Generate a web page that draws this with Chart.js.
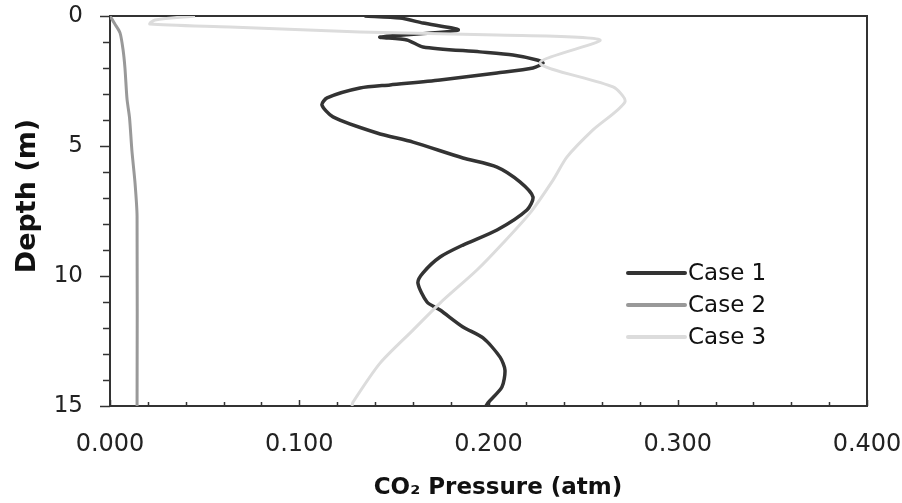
<!DOCTYPE html>
<html>
<head>
<meta charset="utf-8">
<script src="https://cdn.jsdelivr.net/npm/chart.js@4.4.1/dist/chart.umd.min.js"></script>
<style>
    html, body { margin: 0; padding: 0; background: #fff; }
    #wrapper { width: 902px; height: 503px; }
</style>
</head>
<body>
<div id="wrapper"><canvas id="canvas" width="902" height="503"></canvas></div>
<script>
// depth (m) and CO2 pressure (atm) per case
const CASE1_DEPTH = [0, 0.08, 0.27, 0.54, 0.81, 0.92, 1.19, 1.38, 1.50, 1.69, 1.81, 2.00, 2.19, 2.46, 2.65, 2.77, 3.15, 3.42, 3.88, 4.50, 4.85, 5.46, 5.81, 6.38, 6.96, 7.46, 8.23, 8.81, 9.27, 9.88, 10.27, 11.00, 11.31, 11.96, 12.38, 13.12, 13.62, 14.27, 14.88, 15];
const CASE1_PRESSURE = [0.1345, 0.1532, 0.1654, 0.1839, 0.1427, 0.1569, 0.1654, 0.1955, 0.2129, 0.2256, 0.2288, 0.2235, 0.2045, 0.1744, 0.1480, 0.1321, 0.1147, 0.1120, 0.1178, 0.1411, 0.1601, 0.1865, 0.2045, 0.2166, 0.2235, 0.2203, 0.2045, 0.1865, 0.1744, 0.1654, 0.1627, 0.1675, 0.1744, 0.1865, 0.1971, 0.2061, 0.2087, 0.2071, 0.1997, 0.1987];

const CASE2_DEPTH = [0, 0.3, 0.65, 1.3, 2.0, 3.2, 3.9, 5.2, 6.4, 7.7, 15];
const CASE2_PRESSURE = [0, 0.0025, 0.0053, 0.0069, 0.0079, 0.0090, 0.0103, 0.0116, 0.0132, 0.0143, 0.0143];

const CASE3_DEPTH = [0, 0.15, 0.31, 0.42, 0.62, 0.73, 0.92, 1.81, 2.73, 3.30, 4.38, 5.42, 6.31, 7.58, 8.73, 9.77, 11.04, 12.08, 13.35, 14.85, 15];
const CASE3_PRESSURE = [0.0449, 0.0238, 0.0211, 0.0634, 0.1321, 0.2045, 0.2589, 0.2272, 0.2658, 0.2721, 0.2552, 0.2415, 0.2341, 0.2219, 0.2077, 0.1939, 0.1744, 0.1601, 0.1427, 0.1284, 0.1279];

const X_LABELS = [0, 0.1, 0.2, 0.3, 0.4];
const Y_LABELS = [0, 5, 10, 15];

const FONT = 'DejaVu Sans';

function toPoints(depth, pressure) {
    return depth.map(function (d, i) {
        return { x: pressure[i], y: d };
    });
}

// box, inside ticks on x, outside ticks on y
const frameTicks = {
    id: 'frameTicks',
    beforeDatasetsDraw: function (chart) {
        const ctx = chart.ctx;
        const a = chart.chartArea;
        const xs = chart.scales.x;
        const ys = chart.scales.y;
        ctx.save();
        ctx.strokeStyle = '#333';
        ctx.lineWidth = 2;
        ctx.strokeRect(a.left, a.top, a.right - a.left, a.bottom - a.top);

        ctx.lineWidth = 1.5;
        for (let i = 0; i <= 20; i++) {
            const px = Math.round(xs.getPixelForValue(i * 0.02)) + 0.5;
            const len = (i % 5 === 0) ? 6 : 4;
            ctx.beginPath();
            ctx.moveTo(px, a.bottom);
            ctx.lineTo(px, a.bottom - len);
            ctx.stroke();
        }
        for (let d = 0; d <= 15; d++) {
            const py = Math.round(ys.getPixelForValue(d)) + 0.5;
            const len = (d % 5 === 0) ? 10 : 7;
            ctx.beginPath();
            ctx.moveTo(a.left - len, py);
            ctx.lineTo(a.left, py);
            ctx.stroke();
        }
        ctx.restore();
    },
    afterDraw: function (chart) {
        const ctx = chart.ctx;
        ctx.save();
        ctx.fillStyle = '#111';

        // axis titles
        ctx.font = 'bold 23px "' + FONT + '"';
        ctx.textAlign = 'center';
        ctx.textBaseline = 'middle';
        ctx.fillText('CO\u2082 Pressure (atm)', 498, 488);

        ctx.save();
        ctx.translate(28, 196);
        ctx.rotate(-Math.PI / 2);
        ctx.font = 'bold 27px "' + FONT + '"';
        ctx.fillText('Depth (m)', 0, 0);
        ctx.restore();

        // legend inside the plot
        ctx.font = '23px "' + FONT + '"';
        ctx.textAlign = 'left';
        chart.data.datasets.forEach(function (ds, i) {
            const y = 273 + i * 32;
            ctx.strokeStyle = ds.borderColor;
            ctx.lineWidth = 4;
            ctx.lineCap = 'round';
            ctx.beginPath();
            ctx.moveTo(628, y);
            ctx.lineTo(685, y);
            ctx.stroke();
            ctx.fillStyle = '#111';
            ctx.fillText(ds.label, 688, y + 1);
        });
        ctx.restore();
    }
};

var ctx = document.getElementById('canvas').getContext('2d');

var chart = new Chart(ctx, {
    type: 'scatter',
    data: {
        datasets: [
            { label: 'Case 1', data: toPoints(CASE1_DEPTH, CASE1_PRESSURE), borderColor: '#333333', borderWidth: 3.5, order: 3 },
            { label: 'Case 2', data: toPoints(CASE2_DEPTH, CASE2_PRESSURE), borderColor: '#999999', borderWidth: 3, order: 2 },
            { label: 'Case 3', data: toPoints(CASE3_DEPTH, CASE3_PRESSURE), borderColor: '#dcdcdc', borderWidth: 3, order: 1 }
        ]
    },
    options: {
        responsive: false,
        animation: false,
        showLine: true,
        layout: { padding: { top: 16, right: 35, left: 0, bottom: 0 } },
        elements: {
            point: { radius: 0, hoverRadius: 0 },
            line: { tension: 0.25, fill: false }
        },
        plugins: {
            legend: { display: false },
            tooltip: { enabled: false }
        },
        scales: {
            x: {
                type: 'linear',
                min: 0,
                max: 0.4,
                afterFit: function (scale) {
                    scale.height = 97;
                    scale.paddingLeft = 0;
                    scale.paddingRight = 0;
                },
                afterBuildTicks: function (scale) {
                    scale.ticks = X_LABELS.map(function (v) { return { value: v }; });
                },
                ticks: {
                    font: { family: FONT, size: 24 },
                    color: '#222',
                    padding: 24,
                    maxRotation: 0,
                    callback: function (v) { return v.toFixed(3); }
                },
                grid: { display: false, drawTicks: false },
                border: { color: '#333', width: 2 }
            },
            y: {
                type: 'linear',
                reverse: true,
                min: 0,
                max: 15,
                afterFit: function (scale) {
                    scale.width = 110;
                    scale.paddingTop = 0;
                    scale.paddingBottom = 0;
                },
                afterBuildTicks: function (scale) {
                    scale.ticks = Y_LABELS.map(function (v) { return { value: v }; });
                },
                ticks: {
                    font: { family: FONT, size: 23 },
                    color: '#222',
                    padding: 27,
                    callback: function (v) { return v; }
                },
                grid: { display: false, drawTicks: false },
                border: { color: '#333', width: 2 }
            }
        }
    },
    plugins: [frameTicks]
});
</script>
</body>
</html>
